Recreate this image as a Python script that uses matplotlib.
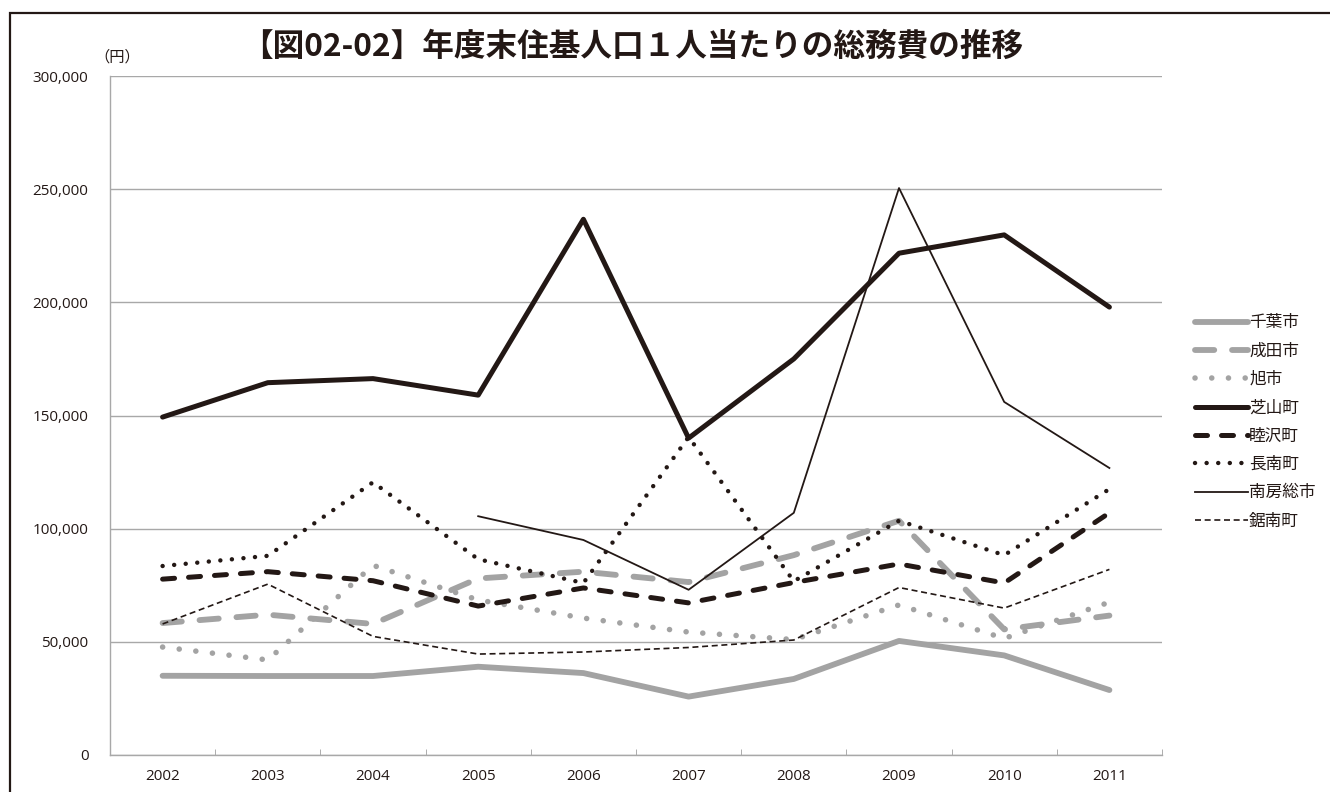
import numpy as np
import matplotlib.pyplot as plt
from matplotlib.patches import Rectangle

plt.rcParams['font.family'] = ['Noto Sans CJK JP', 'DejaVu Sans']

years = ['2002', '2003', '2004', '2005', '2006', '2007', '2008', '2009', '2010', '2011']

chiba = [35000, 34900, 34900, 39000, 36200, 25800, 33600, 50400, 44000, 28700]
narita = [58300, 62000, 57900, 78000, 81000, 76400, 88300, 103500, 55500, 61600]
asahi = [47700, 42000, 83800, 68500, 60500, 54300, 51000, 66300, 51500, 67500]
shibayama = [149300, 164500, 166300, 159000, 236700, 140000, 175000, 221700, 229800, 197900]
mutsuzawa = [77700, 81000, 77000, 65800, 73800, 67200, 76200, 84400, 76000, 107000]
chonan = [83500, 88000, 120500, 86500, 76000, 140500, 76800, 103500, 88300, 117500]
minamiboso = [np.nan, np.nan, np.nan, 105500, 95000, 73000, 107000, 250500, 156000, 126800]
kyonan = [57900, 75500, 52400, 44600, 45500, 47500, 50800, 74000, 64900, 82000]

ink = '#231815'
gray = '#a3a3a3'

fig = plt.figure(figsize=(13.3, 7.92), dpi=100)
ax = fig.add_axes([110 / 1330, 37 / 792, 1052 / 1330, 679 / 792])

# outer frame (right and bottom edges are cut off in the original)
fig.patches.append(Rectangle((10 / 1330, -0.1), 1.2, (792 - 13) / 792 + 0.1,
                             transform=fig.transFigure, fill=False,
                             edgecolor=ink, linewidth=1.6))

x = np.arange(len(years))

ax.plot(x, chiba, color=gray, lw=4.2, solid_capstyle='round', label='千葉市')
l, = ax.plot(x, narita, color=gray, lw=4.2, dash_capstyle='round', label='成田市')
l.set_dashes((3.3, 3.05))
l, = ax.plot(x, asahi, color=gray, lw=4.0, dash_capstyle='round', label='旭市')
l.set_dashes((0.01, 3.0))
ax.plot(x, shibayama, color=ink, lw=3.6, solid_capstyle='round', label='芝山町')
l, = ax.plot(x, mutsuzawa, color=ink, lw=3.6, dash_capstyle='round', label='睦沢町')
l.set_dashes((2.4, 2.8))
l, = ax.plot(x, chonan, color=ink, lw=3.2, dash_capstyle='round', label='長南町')
l.set_dashes((0.01, 2.6))
ax.plot(x, minamiboso, color=ink, lw=1.3, label='南房総市')
l, = ax.plot(x, kyonan, color=ink, lw=1.2, label='鋸南町')
l.set_dashes((3.6, 2.2))

ax.set_xlim(-0.5, len(years) - 0.5)
ax.set_ylim(0, 300000)
ax.set_yticks(np.arange(0, 300001, 50000))
ax.set_yticklabels(['{:,}'.format(v) for v in range(0, 300001, 50000)])
ax.set_xticks(x)
ax.set_xticklabels(years)
ax.set_xticks(np.arange(-0.5, len(years)), minor=True)
ax.tick_params(axis='x', which='major', length=0, pad=10, labelsize=11, labelcolor=ink)
ax.tick_params(axis='x', which='minor', length=4, direction='in', color='#a0a0a0')
ax.tick_params(axis='y', length=0, pad=15.5, labelsize=11, labelcolor=ink)
for t in ax.get_xticklabels() + ax.get_yticklabels():
    t.set_family(['Open Sans', 'DejaVu Sans'])

ax.grid(axis='y', color='#a8a8a8', linewidth=1.0)
ax.set_axisbelow(True)
for s in ['top', 'right']:
    ax.spines[s].set_visible(False)
for s in ['left', 'bottom']:
    ax.spines[s].set_color('#a8a8a8')
    ax.spines[s].set_linewidth(1.0)

fig.text(632 / 1330, 1 - 47 / 792, '【図02-02】年度末住基人口１人当たりの総務費の推移',
         ha='center', va='center', fontsize=22.8, fontweight='bold', color=ink)
fig.text(117 / 1330, 1 - 57 / 792, '（円）', ha='center', va='center', fontsize=11, color=ink)

leg = ax.legend(loc='center left', bbox_to_anchor=(1180 / 1330, 1 - 422 / 792),
                bbox_transform=fig.transFigure, frameon=False, fontsize=12,
                handlelength=3.2, handletextpad=0.05, labelspacing=0.68)
for t in leg.get_texts():
    t.set_color(ink)

fig.savefig('out.png', dpi=100, facecolor='white')
